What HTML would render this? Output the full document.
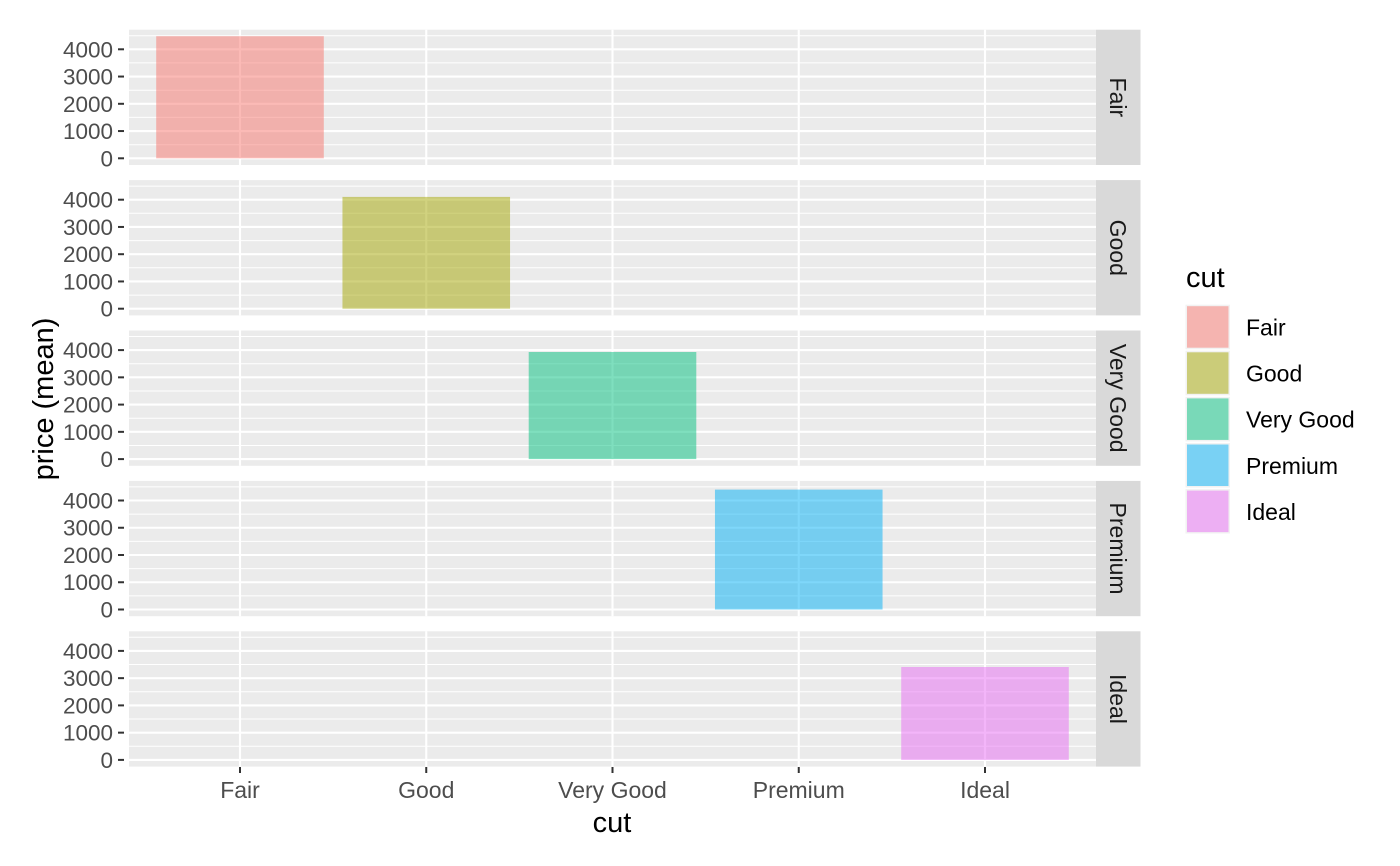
<!DOCTYPE html>
<html><head><meta charset="utf-8"><style>body{margin:0;background:#fff}svg{display:block}</style></head>
<body>
<svg width="1400" height="866" viewBox="0 0 1400 866" font-family="Liberation Sans, Arial, sans-serif">
<defs>
<g id="pb">
<rect x="129" y="0" width="967" height="135.3" fill="#ebebeb"/>
<g stroke="#fff" stroke-width="1">
<line x1="129" x2="1096" y1="115" y2="115"/><line x1="129" x2="1096" y1="87.7" y2="87.7"/><line x1="129" x2="1096" y1="60.5" y2="60.5"/><line x1="129" x2="1096" y1="33.2" y2="33.2"/><line x1="129" x2="1096" y1="6" y2="6"/>
</g>
<g stroke="#fff" stroke-width="2.1">
<line x1="129" x2="1096" y1="128.6" y2="128.6"/><line x1="129" x2="1096" y1="101.35" y2="101.35"/><line x1="129" x2="1096" y1="74.1" y2="74.1"/><line x1="129" x2="1096" y1="46.85" y2="46.85"/><line x1="129" x2="1096" y1="19.6" y2="19.6"/>
<line x1="240" x2="240" y1="0" y2="135.3"/><line x1="426.25" x2="426.25" y1="0" y2="135.3"/><line x1="612.5" x2="612.5" y1="0" y2="135.3"/><line x1="798.75" x2="798.75" y1="0" y2="135.3"/><line x1="985" x2="985" y1="0" y2="135.3"/>
</g>
<g stroke="#333" stroke-width="2">
<line x1="118" x2="124" y1="128.6" y2="128.6"/><line x1="118" x2="124" y1="101.35" y2="101.35"/><line x1="118" x2="124" y1="74.1" y2="74.1"/><line x1="118" x2="124" y1="46.85" y2="46.85"/><line x1="118" x2="124" y1="19.6" y2="19.6"/>
</g>
<rect x="1096" y="0" width="44.5" height="135.3" fill="#d9d9d9"/>
</g>
</defs>

<g transform="translate(0,29.7)">
<use href="#pb"/>
<rect x="156.2" y="6.5" width="167.6" height="122.1" fill="#F8766D" fill-opacity="0.5"/>
<g font-size="22.5" fill="#4d4d4d" text-anchor="end"><text x="113" y="136.6">0</text><text x="113" y="109.35">1000</text><text x="113" y="82.1">2000</text><text x="113" y="54.85">3000</text><text x="113" y="27.6">4000</text></g>
<text transform="translate(1110,67.65) rotate(90)" font-size="23" fill="#1a1a1a" text-anchor="middle">Fair</text>
</g>

<g transform="translate(0,180.1)">
<use href="#pb"/>
<rect x="342.45" y="16.8" width="167.6" height="111.8" fill="#A3A500" fill-opacity="0.5"/>
<g font-size="22.5" fill="#4d4d4d" text-anchor="end"><text x="113" y="136.6">0</text><text x="113" y="109.35">1000</text><text x="113" y="82.1">2000</text><text x="113" y="54.85">3000</text><text x="113" y="27.6">4000</text></g>
<text transform="translate(1110,67.65) rotate(90)" font-size="23" fill="#1a1a1a" text-anchor="middle">Good</text>
</g>

<g transform="translate(0,330.5)">
<use href="#pb"/>
<rect x="528.7" y="21.5" width="167.6" height="107.1" fill="#00BF7D" fill-opacity="0.5"/>
<g font-size="22.5" fill="#4d4d4d" text-anchor="end"><text x="113" y="136.6">0</text><text x="113" y="109.35">1000</text><text x="113" y="82.1">2000</text><text x="113" y="54.85">3000</text><text x="113" y="27.6">4000</text></g>
<text transform="translate(1110,67.65) rotate(90)" font-size="23" fill="#1a1a1a" text-anchor="middle">Very Good</text>
</g>

<g transform="translate(0,480.9)">
<use href="#pb"/>
<rect x="714.95" y="8.7" width="167.6" height="119.9" fill="#00B0F6" fill-opacity="0.5"/>
<g font-size="22.5" fill="#4d4d4d" text-anchor="end"><text x="113" y="136.6">0</text><text x="113" y="109.35">1000</text><text x="113" y="82.1">2000</text><text x="113" y="54.85">3000</text><text x="113" y="27.6">4000</text></g>
<text transform="translate(1110,67.65) rotate(90)" font-size="23" fill="#1a1a1a" text-anchor="middle">Premium</text>
</g>

<g transform="translate(0,631.3)">
<use href="#pb"/>
<rect x="901.2" y="35.7" width="167.6" height="92.9" fill="#E76BF3" fill-opacity="0.5"/>
<g font-size="22.5" fill="#4d4d4d" text-anchor="end"><text x="113" y="136.6">0</text><text x="113" y="109.35">1000</text><text x="113" y="82.1">2000</text><text x="113" y="54.85">3000</text><text x="113" y="27.6">4000</text></g>
<text transform="translate(1110,67.65) rotate(90)" font-size="23" fill="#1a1a1a" text-anchor="middle">Ideal</text>
</g>

<g stroke="#333" stroke-width="2">
<line x1="240" x2="240" y1="767" y2="773"/><line x1="426.25" x2="426.25" y1="767" y2="773"/><line x1="612.5" x2="612.5" y1="767" y2="773"/><line x1="798.75" x2="798.75" y1="767" y2="773"/><line x1="985" x2="985" y1="767" y2="773"/>
</g>
<g font-size="23" fill="#4d4d4d" text-anchor="middle">
<text x="240" y="798">Fair</text><text x="426.25" y="798">Good</text><text x="612.5" y="798">Very Good</text><text x="798.75" y="798">Premium</text><text x="985" y="798">Ideal</text>
</g>

<text x="612" y="832" font-size="29" text-anchor="middle" fill="#000">cut</text>
<text transform="translate(53,399) rotate(-90)" font-size="29" text-anchor="middle" fill="#000">price (mean)</text>

<text x="1186" y="287" font-size="29" fill="#000">cut</text>
<rect x="1185.5" y="304.7" width="44.5" height="44.5" fill="#f2f2f2"/><rect x="1187" y="306.2" width="41.5" height="41.5" fill="#F8766D" fill-opacity="0.5"/>
<rect x="1185.5" y="350.8" width="44.5" height="44.5" fill="#f2f2f2"/><rect x="1187" y="352.3" width="41.5" height="41.5" fill="#A3A500" fill-opacity="0.5"/>
<rect x="1185.5" y="396.9" width="44.5" height="44.5" fill="#f2f2f2"/><rect x="1187" y="398.4" width="41.5" height="41.5" fill="#00BF7D" fill-opacity="0.5"/>
<rect x="1185.5" y="443" width="44.5" height="44.5" fill="#f2f2f2"/><rect x="1187" y="444.5" width="41.5" height="41.5" fill="#00B0F6" fill-opacity="0.5"/>
<rect x="1185.5" y="489.1" width="44.5" height="44.5" fill="#f2f2f2"/><rect x="1187" y="490.6" width="41.5" height="41.5" fill="#E76BF3" fill-opacity="0.5"/>
<g font-size="23" fill="#000">
<text x="1246" y="335.5">Fair</text><text x="1246" y="381.6">Good</text><text x="1246" y="427.7">Very Good</text><text x="1246" y="473.8">Premium</text><text x="1246" y="519.9">Ideal</text>
</g>
</svg>
</body></html>
